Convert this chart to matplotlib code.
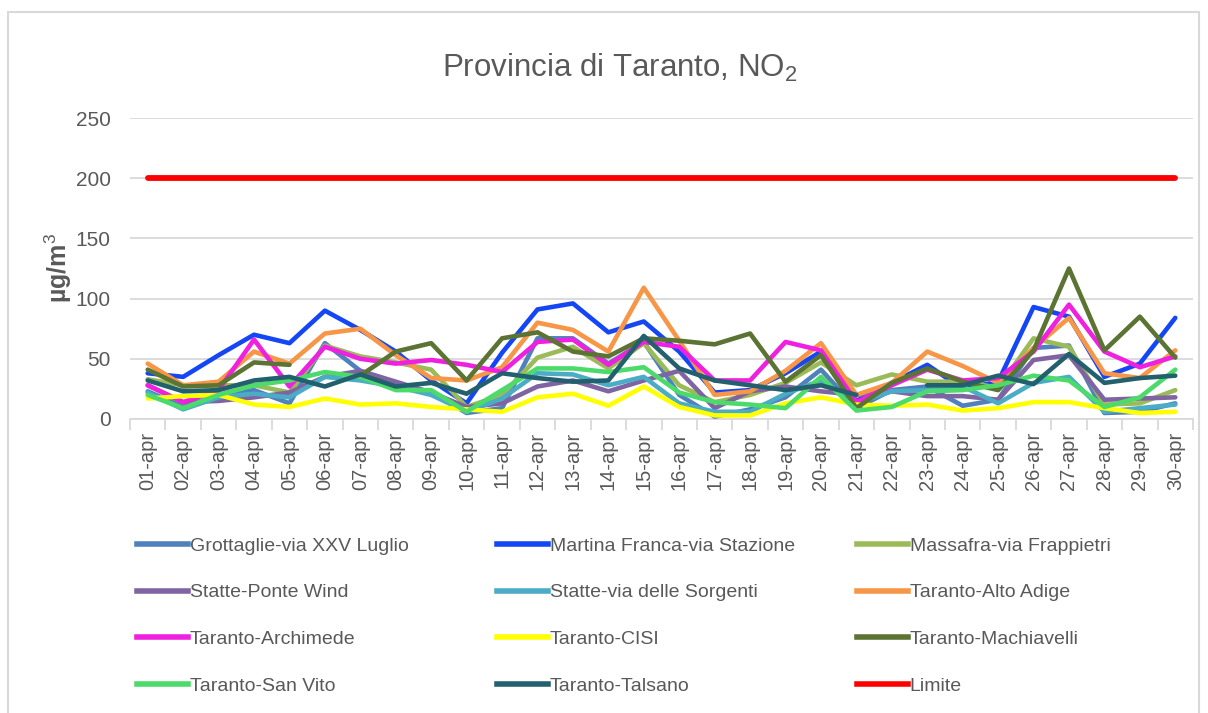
import matplotlib
matplotlib.use("Agg")
import matplotlib.pyplot as plt
import numpy as np
from matplotlib.patches import Rectangle
from matplotlib.lines import Line2D

plt.rcParams["font.family"] = ["Liberation Sans", "DejaVu Sans"]
plt.rcParams["mathtext.fontset"] = "custom"
plt.rcParams["mathtext.rm"] = "Liberation Sans"
plt.rcParams["mathtext.bf"] = "Liberation Sans:bold"

days = [f"{d:02d}-apr" for d in range(1, 31)]

grottaglie = [23, 10, 20, 24, 13, 63, 40, 30, 22, 5, 9, 67, 67, 46, 64, 20, 2, 8, 18, 41, 9, 24, 27, 11, 16, 59, 61, 5, 6, 13]
martina = [38, 35, 53, 70, 63, 90, 74, 56, 32, 13, 55, 91, 96, 72, 81, 56, 22, 24, 38, 56, 15, 30, 45, 25, 31, 93, 85, 35, 46, 84]
massafra = [33, 28, 28, 28, 22, 61, 52, 47, 41, 10, 20, 51, 60, 42, 63, 28, 14, 20, 30, 47, 28, 37, 31, 31, 26, 67, 60, 12, 13, 24]
ponte_wind = [28, 14, 15, 18, 22, 35, 40, 31, 22, 10, 13, 27, 32, 23, 32, 40, 9, 23, 27, 23, 20, 23, 19, 19, 16, 49, 53, 16, 17, 18]
sorgenti = [22, 8, 18, 21, 18, 35, 32, 27, 20, 6, 17, 38, 37, 28, 35, 13, 6, 6, 21, 32, 13, 23, 24, 27, 13, 30, 35, 6, 9, 12]
alto_adige = [46, 28, 31, 56, 46, 71, 75, 53, 34, 32, 43, 80, 74, 56, 109, 65, 20, 23, 40, 63, 20, 30, 56, 44, 30, 59, 84, 38, 34, 57]
archimede = [28, 14, 24, 66, 27, 60, 50, 46, 49, 45, 39, 64, 66, 45, 64, 60, 32, 32, 64, 57, 14, 28, 41, 32, 34, 56, 95, 56, 43, 52]
cisi = [17, 19, 20, 12, 10, 17, 12, 13, 10, 8, 6, 18, 21, 11, 27, 10, 3, 3, 13, 18, 12, 11, 12, 7, 9, 14, 14, 9, 5, 6]
machiavelli = [41, 27, 28, 47, 45, None, 36, 56, 63, 32, 67, 72, 56, 52, 67, 65, 62, 71, 31, 53, 9, 30, 42, 31, 24, 57, 125, 57, 85, 51]
san_vito = [20, 9, 20, 28, 32, 39, 35, 24, 24, 6, 24, 42, 42, 39, 43, 22, 14, 12, 9, 35, 7, 10, 23, 24, 28, 36, 32, 10, 18, 41]
talsano = [32, 23, 24, 32, 35, 27, 37, 27, 30, 21, 38, 34, 31, 32, 69, 42, 32, 28, 24, 28, 20, None, 28, 28, 36, 29, 54, 30, 34, 36]
limite = [200] * 30

series = [
    ("Grottaglie-via XXV Luglio", grottaglie, "#4F81BD"),
    ("Martina Franca-via Stazione", martina, "#1446F5"),
    ("Massafra-via Frappietri", massafra, "#9BBB59"),
    ("Statte-Ponte Wind", ponte_wind, "#8064A2"),
    ("Statte-via delle Sorgenti", sorgenti, "#4BACC6"),
    ("Taranto-Alto Adige", alto_adige, "#F79646"),
    ("Taranto-Archimede", archimede, "#F020E0"),
    ("Taranto-CISI", cisi, "#FFFF00"),
    ("Taranto-Machiavelli", machiavelli, "#5B7333"),
    ("Taranto-San Vito", san_vito, "#4CDB6A"),
    ("Taranto-Talsano", talsano, "#23606E"),
    ("Limite", limite, "#FF0000"),
]

W, H = 1208, 713
fig = plt.figure(figsize=(W / 100, H / 100), dpi=100)
fig.patches.append(Rectangle((8 / W, -0.01), (1199 - 8) / W, 1 - 12 / H + 0.01,
                             transform=fig.transFigure, fill=False,
                             edgecolor="#D9D9D9", linewidth=1.5))

ax = fig.add_axes([130 / W, 1 - 419 / H, (1193 - 130) / W, (419 - 118) / H])
x = np.arange(len(days))

handles = []
for name, vals, color in series:
    y = np.array([np.nan if v is None else v for v in vals], dtype=float)
    lw = 4.2 if name == "Limite" else 3.3
    ax.plot(x, y, color=color, linewidth=lw, solid_capstyle="round", zorder=3)
    handles.append(Line2D([0], [0], color=color, linewidth=4))

ax.set_xlim(-0.5, len(days) - 0.5)
ax.set_ylim(0, 250)
ax.set_yticks(range(0, 251, 50))
ax.grid(axis="y", color="#D9D9D9", linewidth=1.3, zorder=0)
ax.set_axisbelow(True)
for s in ["top", "right", "left"]:
    ax.spines[s].set_visible(False)
ax.spines["bottom"].set_color("#D9D9D9")
ax.spines["bottom"].set_linewidth(1.3)

ax.set_xticks(x)
ax.set_xticklabels(days, rotation=90, fontsize=14.5, color="#595959")
ax.tick_params(axis="x", which="major", length=0, pad=9)
ax.set_xticks(np.arange(-0.5, len(days), 1), minor=True)
ax.tick_params(axis="x", which="minor", length=8, color="#D9D9D9", width=1.3)
ax.tick_params(axis="y", length=0, labelsize=15, labelcolor="#595959", pad=14)

ax.set_ylabel("µg/m$^3$", fontsize=18, fontweight="bold", color="#595959", labelpad=1)

fig.text(620 / W, 1 - 68 / H, "Provincia di Taranto, NO$_2$", ha="center", va="center",
         fontsize=22.5, color="#595959")

cols_x = [137, 497, 857]
for c in range(3):
    idx = [c, c + 3, c + 6, c + 9]
    fig.legend([handles[i] for i in idx], [series[i][0] for i in idx],
               loc="upper left", bbox_to_anchor=(cols_x[c] / W, 1 - 537 / H),
               frameon=False, fontsize=14, labelcolor="#595959",
               handlelength=2.6, handletextpad=0.1, labelspacing=1.5,
               borderpad=0, borderaxespad=0)

fig.savefig("out.png", dpi=100)
